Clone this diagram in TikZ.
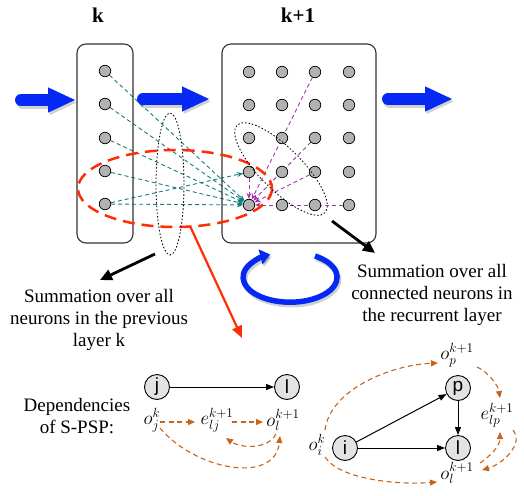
\RequirePackage{fix-cm}
\documentclass[tikz,border=0pt]{standalone}
\usepackage{fontspec}
\setmainfont{Liberation Serif}
\newfontfamily\sansf{Liberation Sans}
\usetikzlibrary{arrows.meta,backgrounds,calc}
\definecolor{myblue}{RGB}{5,40,245}
\definecolor{tealc}{RGB}{20,125,125}
\definecolor{purpc}{RGB}{160,55,175}
\definecolor{redc}{RGB}{255,45,5}
\definecolor{orangec}{RGB}{200,100,25}
\definecolor{neurgray}{RGB}{178,178,178}
\begin{document}
\begin{tikzpicture}[x=1pt,y=-1pt,
  neuron/.style={circle, draw=black, line width=0.7pt, fill=neurgray, minimum size=11.5pt, inner sep=0pt},
  layerbox/.style={draw=black!80, line width=1.1pt, rounded corners=9pt},
  tealarr/.style={draw=tealc, dash pattern=on 4pt off 3pt, line width=0.9pt, -{Stealth[length=6pt,width=5pt,fill=tealc]}},
  purparr/.style={draw=purpc, dash pattern=on 4pt off 3pt, line width=0.9pt, -{Stealth[length=6pt,width=5pt,fill=purpc]}},
  txt/.style={font=\fontsize{19}{22}\selectfont, align=center, inner sep=0pt},
  title/.style={font=\fontsize{21}{24}\selectfont\bfseries, inner sep=0pt},
  gnode/.style={circle, draw=black, line width=0.9pt, fill=gray!22, minimum size=25pt, inner sep=0pt, font=\sansf\fontsize{19}{22}\selectfont},
  mlabel/.style={inner sep=0pt, font=\fontsize{19}{22}\selectfont},
  oarr/.style={draw=orangec, line width=1.1pt, dash pattern=on 5pt off 3.5pt, -{Triangle[length=7pt,width=6pt,fill=orangec]}},
  garr/.style={draw=black, line width=1pt, -{Triangle[length=8pt,width=6pt]}},
  bigarrow/.style={draw=myblue, line width=12pt, line cap=round, -{Triangle[length=28pt,width=23pt]}},
  bigshadow/.style={draw=black, opacity=0.18, line width=12pt, line cap=round, -{Triangle[length=28pt,width=23pt]}, transform canvas={shift={(1.5,2.5)}}},
  blackarr/.style={draw=black, line width=2.8pt, -{Triangle[length=12pt,width=11pt]}},
  redarr/.style={draw=redc, line width=2.2pt, -{Triangle[length=12pt,width=10pt]}},
  dotloop/.style={draw=black, line width=0.9pt, dash pattern=on 1pt off 2.5pt, line cap=round}
]
\useasboundingbox (0,0) rectangle (524,495);

% titles
\node[title] (tk) at (98,15) {k};
\node[title] (tk1) at (298,15) {k+1};

% layer boxes
\draw[layerbox] (77,44) rectangle (133,243);
\draw[layerbox] (222,44) rectangle (376,243);

% blue arrows
\coordinate (a1s) at (21,100); \coordinate (a1e) at (76,100);
\coordinate (a2s) at (143,99); \coordinate (a2e) at (210,99);
\coordinate (a3s) at (388,99); \coordinate (a3e) at (453,99);
\draw[bigshadow] (a1s) -- (a1e);
\draw[bigshadow] (a2s) -- (a2e);
\draw[bigshadow] (a3s) -- (a3e);
\draw[bigarrow] (a1s) -- (a1e);
\draw[bigarrow] (a2s) -- (a2e);
\draw[bigarrow] (a3s) -- (a3e);

% neurons
\foreach \r/\y in {1/71,2/104,3/138,4/171,5/204}
  \node[neuron] (L\r) at (105,\y) {};
\foreach \c/\x in {1/249,2/282,3/315,4/349}
  \foreach \r/\y in {1/72,2/105,3/138,4/172,5/205}
    \node[neuron] (R\c\r) at (\x,\y) {};

\begin{scope}[on background layer]
  \foreach \r in {1,...,5} \draw[tealarr] (L\r) -- (R15);
  \draw[tealarr] (L5) -- (R14);
  \draw[purparr] (R14) -- (R15);
  \draw[purparr] (R31) -- (R15);
  \draw[purparr] (R33) -- (R15);
  \draw[purparr] (R34) -- (R15);
  \draw[purparr] (R45) -- (R15);
\end{scope}

% enclosing ellipses
\draw[draw=redc, line width=2.5pt, dash pattern=on 12pt off 7pt] (175,188.5) ellipse [x radius=97, y radius=38.5];
\draw[dotloop] (170,184) ellipse [x radius=14, y radius=71];
\draw[dotloop, rotate around={-45:(281,169)}] (281,169) ellipse [x radius=62, y radius=21];

% black and red arrows
\coordinate (bl1) at (155,254); \coordinate (bl2) at (100,280);
\coordinate (br1) at (332,221); \coordinate (br2) at (375,253);
\coordinate (rs) at (190,226); \coordinate (re) at (242,338);
\draw[blackarr] (bl1) -- (bl2);
\draw[blackarr] (br1) -- (br2);
\draw[redarr] (rs) -- (re);

% recurrent blue loop
\coordinate (cs) at (315,256);
\draw[draw=black, opacity=0.18, line width=5.5pt, -{Triangle[length=10pt,width=15pt]}, transform canvas={shift={(1.5,2.5)}}] (cs) arc[start angle=-58, end angle=245, x radius=47, y radius=25];
\draw[draw=myblue, line width=5.5pt, -{Triangle[length=10pt,width=15pt]}] (cs) arc[start angle=-58, end angle=245, x radius=47, y radius=25];

% texts
\node[txt] (t1) at (99,320) {Summation over all\\neurons in the previous\\layer k};
\node[txt] (t2) at (432,295) {Summation over all\\connected neurons in\\the recurrent layer};
\node[txt] (t3) at (77,416) {Dependencies\\of S-PSP:};

% left dependency graph
\node[gnode] (j) at (157,387) {j};
\node[gnode] (l1) at (287,387) {l};
\draw[garr] (j) -- (l1);
\node[mlabel] (oj) at (152,420) {$o_j^k$};
\node[mlabel] (elj) at (217,420) {$e_{lj}^{k+1}$};
\node[mlabel] (olj) at (283,420) {$o_l^{k+1}$};
\draw[oarr] ([shift={(8,2)}]oj.center) -- ([shift={(-22,2)}]elj.center);
\draw[oarr] ([shift={(15,2)}]elj.center) -- ([shift={(-20,2)}]olj.center);
\draw[oarr] ([shift={(-7,14)}]olj.center) .. controls +(-8,16) and +(14,10) .. ([shift={(9,18)}]elj.center);
\draw[oarr] ([shift={(8,8)}]oj.center) .. controls +(35,42) and +(-5,49) .. ([shift={(-3,16)}]olj.center);

% right dependency graph
\node[gnode] (i) at (345,448) {i};
\node[gnode] (p) at (458,388) {p};
\node[gnode] (l2) at (458,448) {l};
\draw[garr] (i) -- (p);
\draw[garr] (p) -- (l2);
\draw[garr] (i) -- (l2);
\node[mlabel] (op) at (457,355) {$o_p^{k+1}$};
\node[mlabel] (elp) at (497,415) {$e_{lp}^{k+1}$};
\node[mlabel] (oi) at (317,445) {$o_i^k$};
\node[mlabel] (oll) at (457,473) {$o_l^{k+1}$};
\draw[oarr] ([shift={(8,-15)}]oi.center) .. controls +(5,-40) and +(-48,2) .. ([shift={(-19,8)}]op.center);
\draw[oarr] ([shift={(20,12)}]op.center) .. controls +(11,5) and +(-2,-13) .. ([shift={(3,-17)}]elp.center);
\draw[oarr] ([shift={(23,-10)}]oll.center) .. controls +(12,-8) and +(0,13) .. ([shift={(3,17)}]elp.center);
\draw[oarr] ([shift={(16,15)}]elp.center) .. controls +(12,15) and +(18,-5) .. ([shift={(25,-3)}]oll.center);
\draw[oarr] ([shift={(8,12)}]oi.center) .. controls +(15,23) and +(-37,3) .. ([shift={(-20,9)}]oll.center);
\end{tikzpicture}
\end{document}
